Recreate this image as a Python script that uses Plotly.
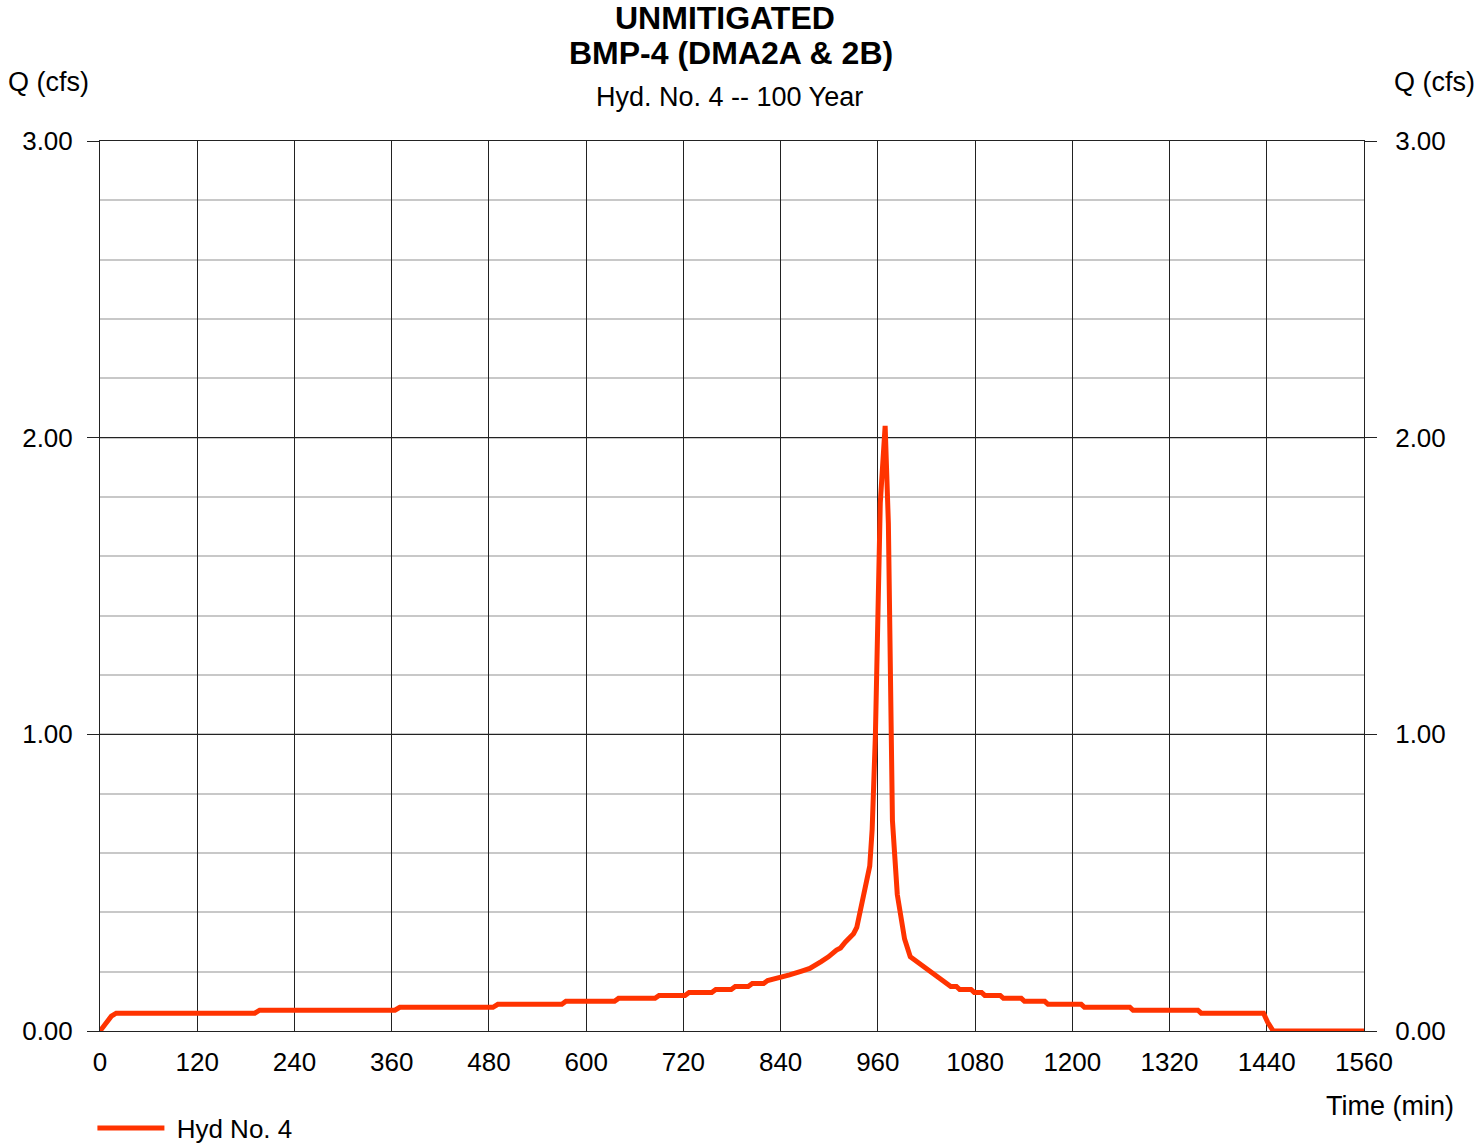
import plotly.graph_objects as go

time_min = [0, 8, 14, 20, 191, 197, 364, 370, 485, 491, 570, 575, 635, 640,
            685, 690, 722, 727, 755, 760, 779, 784, 800, 805, 819, 824,
            837, 851, 866, 876, 890, 899, 909, 914, 920, 930, 934, 942, 946,
            950, 953, 957, 963, 969, 973, 975, 978, 984, 993, 1000, 1008,
            1024, 1035, 1045, 1050, 1057, 1061, 1075, 1079, 1088, 1092, 1111,
            1115, 1137, 1141, 1166, 1170, 1211, 1215, 1271, 1275, 1355, 1359,
            1436, 1441, 1448, 1560]
q_cfs = [0.0, 0.031, 0.05, 0.06, 0.06, 0.07, 0.07, 0.08, 0.08, 0.09, 0.09, 0.10,
         0.10, 0.11, 0.11, 0.12, 0.12, 0.13, 0.13, 0.14, 0.14, 0.15, 0.15, 0.16,
         0.16, 0.17, 0.178, 0.189, 0.202, 0.211, 0.234, 0.25, 0.273, 0.28, 0.30,
         0.328, 0.349, 0.446, 0.50, 0.556, 0.68, 1.0, 1.78, 2.04, 1.71, 1.30,
         0.71, 0.46, 0.31, 0.25, 0.234, 0.206, 0.18, 0.161, 0.15, 0.15, 0.14,
         0.14, 0.13, 0.13, 0.12, 0.12, 0.11, 0.11, 0.10, 0.10, 0.09, 0.09, 0.08,
         0.08, 0.07, 0.07, 0.06, 0.06, 0.03, 0.0, 0.0]

x_ticks = list(range(0, 1561, 120))
y_ticks = [0, 1, 2, 3]
series_name = "Hyd No. 4"
title_lines = ["UNMITIGATED", "BMP-4 (DMA2A & 2B)"]
subtitle = "Hyd. No. 4 -- 100 Year"

FONT = "Liberation Sans, Arial, sans-serif"
DARK = "#222222"
LIGHT = "#c8c8c8"
RED = "#ff3300"

fig = go.Figure()
fig.add_trace(go.Scatter(x=time_min, y=q_cfs, mode="lines",
                         name="&nbsp;" + series_name,
                         line=dict(color=RED, width=5), yaxis="y"))
# invisible trace so the right-hand axis is drawn
fig.add_trace(go.Scatter(x=time_min, y=q_cfs, mode="lines", showlegend=False,
                         hoverinfo="skip", line=dict(color="rgba(0,0,0,0)", width=0),
                         yaxis="y2"))

fig.update_layout(
    width=1475, height=1143,
    margin=dict(l=100, r=111, t=141, b=112, autoexpand=False),
    paper_bgcolor="white", plot_bgcolor="white",
    font=dict(family=FONT, size=26, color="black"),
    showlegend=True,
    legend=dict(x=-0.006, y=-0.109, xanchor="left", yanchor="middle",
                orientation="h", font=dict(size=26), itemwidth=67,
                bgcolor="rgba(0,0,0,0)"),
    xaxis=dict(range=[0, 1560], tickvals=x_ticks, ticks="", showgrid=True,
               gridcolor=DARK, gridwidth=1, showline=True, linecolor=DARK,
               linewidth=1, mirror=True, zeroline=False, automargin=False,
               tickfont=dict(size=26), ticklabelstandoff=8),
    yaxis=dict(range=[0, 3], tickvals=y_ticks, tickformat=".2f", ticks="outside",
               ticklen=12, tickcolor=DARK, showgrid=True, gridcolor=DARK,
               gridwidth=1, showline=True, linecolor=DARK, linewidth=1,
               mirror=True, zeroline=False, tickfont=dict(size=26),
               ticklabelstandoff=9, automargin=False,
               minor=dict(dtick=0.2, showgrid=True, gridcolor=LIGHT, gridwidth=2)),
    yaxis2=dict(range=[0, 3], tickvals=y_ticks, tickformat=".2f", ticks="outside",
                ticklen=12, tickcolor=DARK, overlaying="y", side="right",
                showgrid=False, zeroline=False, showline=False, automargin=False,
                tickfont=dict(size=26), ticklabelstandoff=13),
)

ann = [
    dict(text="<b>" + title_lines[0] + "</b>", x=0.4945, y=1.1382, font=dict(size=32)),
    dict(text="<b>" + title_lines[1] + "</b>", x=0.4992, y=1.0989, font=dict(size=32)),
    dict(text=subtitle, x=0.4984, y=1.0494, font=dict(size=27)),
    dict(text="Q (cfs)", x=-0.0411, y=1.0663, font=dict(size=27)),
    dict(text="Q (cfs)", x=1.0554, y=1.0663, font=dict(size=27)),
    dict(text="Time (min)", x=1.0202, y=-0.0843, font=dict(size=27)),
]
for a in ann:
    fig.add_annotation(xref="paper", yref="paper", showarrow=False,
                       xanchor="center", yanchor="middle", **a)

fig.write_html("out.html")
